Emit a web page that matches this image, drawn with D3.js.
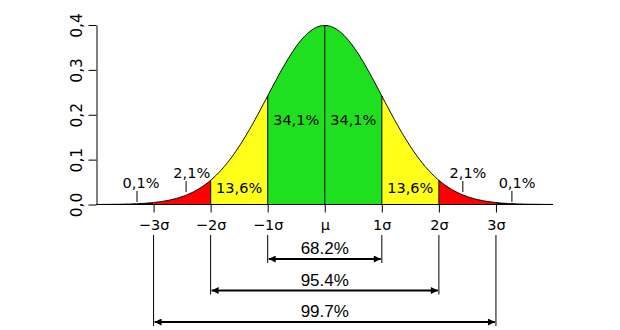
<!DOCTYPE html>
<html>
<head>
<meta charset="utf-8">
<script src="https://cdn.jsdelivr.net/npm/d3@7"></script>
<style>
  body { margin: 0; background: #fff; }
  text { font-family: "DejaVu Sans", sans-serif; }
</style>
</head>
<body>
<div id="chart"></div>
<script>
// data
const yTicks = [0, 0.1, 0.2, 0.3, 0.4]
const sigmaTicks = [-3, -2, -1, 0, 1, 2, 3]
const sigmaLabels = ["\u22123\u03c3", "\u22122\u03c3", "\u22121\u03c3", "\u03bc", "1\u03c3", "2\u03c3", "3\u03c3"]
// bands: [from, to, color]
const bands = [
  { from: -4, to: -3, color: "#600000" },
  { from: -3, to: -2, color: "#ff0000" },
  { from: -2, to: -1, color: "#ffff1a" },
  { from: -1, to: 1, color: "#1fe01f" },
  { from: 1, to: 2, color: "#ffff1a" },
  { from: 2, to: 3, color: "#ff0000" },
  { from: 3, to: 4, color: "#600000" }
]
const areaLabels = [
  { at: -0.5, y: 0.188, text: "34,1%" },
  { at: 0.5, y: 0.188, text: "34,1%" },
  { at: -1.5, y: 0.038, text: "13,6%" },
  { at: 1.5, y: 0.038, text: "13,6%" }
]
const tailLabels = [
  { at: -2.33, tick: -2.43, y: 0.059, text: "2,1%" },
  { at: 2.51, tick: 2.42, y: 0.059, text: "2,1%" },
  { at: -3.22, tick: -3.29, y: 0.037, text: "0,1%" },
  { at: 3.37, tick: 3.28, y: 0.037, text: "0,1%" }
]
const ranges = [
  { k: 1, text: "68.2%" },
  { k: 2, text: "95.4%" },
  { k: 3, text: "99.7%" }
]

const width = 620, height = 330

const x = d3.scaleLinear().domain([-4, 4]).range([96.5, 553])
const y = d3.scaleLinear().domain([0, 0.4]).range([204.5, 25])

const pdf = t => Math.exp(-t * t / 2) / Math.sqrt(2 * Math.PI)

const svg = d3.select("#chart").append("svg")
  .attr("width", width)
  .attr("height", height)

const area = d3.area()
  .x(d => x(d))
  .y0(y(0))
  .y1(d => y(pdf(d)))

bands.forEach(b => {
  svg.append("path")
    .datum(d3.range(b.from, b.to + 0.0001, 0.02))
    .attr("fill", b.color)
    .attr("d", area)
})

// vertical lines inside the curve
;[-2, -1, 0, 1, 2].forEach(s => {
  svg.append("line")
    .attr("x1", x(s)).attr("x2", x(s))
    .attr("y1", y(0)).attr("y2", y(pdf(s)))
    .attr("stroke", "#222").attr("stroke-width", 1.2)
})

// curve
svg.append("path")
  .datum(d3.range(-4, 4.0001, 0.02))
  .attr("fill", "none")
  .attr("stroke", "#000")
  .attr("stroke-width", 1)
  .attr("d", d3.line().x(d => x(d)).y(d => y(pdf(d))))

// baseline
svg.append("line")
  .attr("x1", x(-4)).attr("x2", x(4))
  .attr("y1", y(0)).attr("y2", y(0))
  .attr("stroke", "#000")

// y axis
const yAxis = svg.append("g")
  .attr("transform", `translate(${x(-4)},0)`)
  .call(d3.axisLeft(y).tickValues(yTicks).tickSize(8).tickSizeOuter(0)
    .tickFormat(d => d3.format(".1f")(d).replace(".", ",")))
yAxis.select(".domain").attr("stroke", "#000")
yAxis.selectAll("text")
  .attr("transform", "rotate(-90)")
  .attr("x", 0).attr("y", -15)
  .attr("dy", "0")
  .attr("text-anchor", "middle")
  .style("font-size", "15.5px")
  .style("font-family", "DejaVu Sans, sans-serif")
  .attr("fill", "#000")

// x axis (sigma ticks)
const xAxis = svg.append("g")
  .attr("transform", `translate(0,${y(0)})`)
  .call(d3.axisBottom(x).tickValues(sigmaTicks).tickSize(8)
    .tickFormat((d, i) => sigmaLabels[i]))
xAxis.select(".domain").remove()
xAxis.selectAll("text")
  .attr("y", 15).attr("dy", "0.71em")
  .style("font-size", "14.5px")
  .style("font-family", "DejaVu Sans, sans-serif")
  .attr("fill", "#000")

// area labels
svg.selectAll(".alab").data(areaLabels).join("text")
  .attr("x", d => x(d.at))
  .attr("y", d => y(d.y))
  .attr("text-anchor", "middle")
  .attr("dy", "0.35em")
  .style("font-size", "14.5px")
  .text(d => d.text)

// tail labels with small ticks
svg.selectAll(".tlab").data(tailLabels).join("text")
  .attr("x", d => x(d.at))
  .attr("y", d => y(d.y))
  .attr("text-anchor", "middle")
  .style("font-size", "14.5px")
  .text(d => d.text)
svg.selectAll(".ttick").data(tailLabels).join("line")
  .attr("x1", d => x(d.tick)).attr("x2", d => x(d.tick))
  .attr("y1", d => y(d.y) + 3).attr("y2", d => y(d.y) + 14)
  .attr("stroke", "#000")

// range arrows
const defs = svg.append("defs")
;["s", "e"].forEach(id => {
  defs.append("marker")
    .attr("id", "arr-" + id)
    .attr("viewBox", "0 0 10 10")
    .attr("refX", id === "e" ? 10 : 0).attr("refY", 5)
    .attr("markerWidth", 10).attr("markerHeight", 7)
    .attr("markerUnits", "userSpaceOnUse")
    .attr("orient", "auto")
    .append("path")
    .attr("d", id === "e" ? "M0,0 L10,5 L0,10 z" : "M10,0 L0,5 L10,10 z")
    .attr("fill", "#000")
})

const rowY = d3.scaleLinear().domain([1, 3]).range([259, 322])

ranges.forEach(r => {
  const ay = rowY(r.k)
  ;[-r.k, r.k].forEach(s => {
    svg.append("line")
      .attr("x1", x(s)).attr("x2", x(s))
      .attr("y1", 235).attr("y2", ay + 4)
      .attr("stroke", "#000").attr("stroke-width", 1)
  })
  svg.append("line")
    .attr("x1", x(-r.k) + 1).attr("x2", x(r.k) - 1)
    .attr("y1", ay).attr("y2", ay)
    .attr("stroke", "#000").attr("stroke-width", 2.2)
    .attr("marker-start", "url(#arr-s)")
    .attr("marker-end", "url(#arr-e)")
  svg.append("text")
    .attr("x", x(0))
    .attr("y", ay - 5)
    .attr("text-anchor", "middle")
    .style("font-family", "Liberation Sans, Arial, sans-serif")
    .style("font-size", "17px")
    .text(r.text)
})
</script>
</body>
</html>
